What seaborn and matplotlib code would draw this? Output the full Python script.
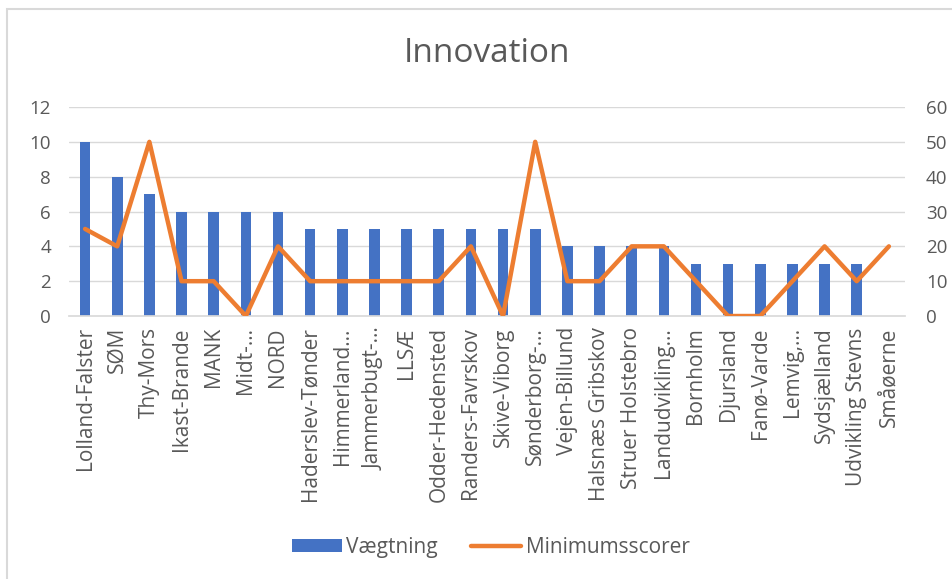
import numpy as np
import pandas as pd
import matplotlib
matplotlib.use("Agg")
import matplotlib.pyplot as plt
from matplotlib.patches import Patch, Rectangle
from matplotlib.lines import Line2D
import seaborn as sns

# ─── DATA ─────────────────────────────
regions = [
    "Lolland-Falster", "SØM", "Thy-Mors", "Ikast-Brande", "MANK", "Midt-…",
    "NORD", "Haderslev-Tønder", "Himmerland…", "Jammerbugt-…", "LLSÆ",
    "Odder-Hedensted", "Randers-Favrskov", "Skive-Viborg", "Sønderborg-…",
    "Vejen-Billund", "Halsnæs Gribskov", "Struer Holstebro", "Landudvikling…",
    "Bornholm", "Djursland", "Fanø-Varde", "Lemvig,…", "Sydsjælland",
    "Udvikling Stevns", "Småøerne",
]
vaegtning = [10, 8, 7, 6, 6, 6, 6, 5, 5, 5, 5, 5, 5, 5, 5, 4, 4, 4, 4, 3, 3, 3, 3, 3, 3, 0]
minimumsscorer = [25, 20, 50, 10, 10, 0, 20, 10, 10, 10, 10, 10, 20, 0, 50, 10, 10, 20, 20, 10, 0, 0, 10, 20, 10, 20]

left_ticks = [0, 2, 4, 6, 8, 10, 12]
right_ticks = [0, 10, 20, 30, 40, 50, 60]

BLUE = "#4472C4"
ORANGE = "#ED7D31"
GREY_TXT = "#595959"
GRID = "#D9D9D9"

df = pd.DataFrame({"region": regions, "vaegt": vaegtning,
                   "minimum": minimumsscorer, "pos": np.arange(len(regions))})

sns.set_theme(style="white")
plt.rcParams["font.family"] = ["Open Sans", "DejaVu Sans"]

fig = plt.figure(figsize=(9.53, 5.79), dpi=100)
ax = fig.add_axes([0.0724, 0.4542, 0.8772, 0.361])

sns.barplot(data=df, x="region", y="vaegt", ax=ax, color=BLUE,
            saturation=1, width=0.33, linewidth=0, zorder=2)
ax2 = ax.twinx()
sns.lineplot(data=df, x="pos", y="minimum", ax=ax2, color=ORANGE,
             linewidth=3.2, sort=False, zorder=3)

ax.set_xlim(-0.5, len(regions) - 0.5)
ax.set_ylim(0, 12)
ax2.set_ylim(0, 60)
ax.set_yticks(left_ticks)
ax2.set_yticks(right_ticks)
ax.set_xlabel("")
ax.set_ylabel("")
ax2.set_ylabel("")

for t in left_ticks[1:]:
    ax.axhline(t, color=GRID, lw=1, zorder=0)

for a in (ax, ax2):
    for s in a.spines.values():
        s.set_visible(False)
    a.tick_params(length=0, colors=GREY_TXT, labelsize=13.5)
ax.spines["bottom"].set_visible(True)
ax.spines["bottom"].set_color(GRID)
ax.tick_params(axis="y", pad=13)
ax2.tick_params(axis="y", pad=15)
ax.tick_params(axis="x", pad=8, labelsize=15)
plt.setp(ax.get_xticklabels(), rotation=90)

fig.text(0.511, 0.908, "Innovation", ha="center", va="center",
         fontsize=24, color=GREY_TXT)

handles = [Patch(facecolor=BLUE, edgecolor="none"),
           Line2D([0], [0], color=ORANGE, lw=3.2)]
fig.legend(handles, ["Vægtning", "Minimumsscorer"], loc="center",
           bbox_to_anchor=(0.515, 0.055), ncol=2, frameon=False,
           fontsize=15, labelcolor=GREY_TXT, handlelength=2.4,
           handleheight=0.6, handletextpad=0.2, columnspacing=1.6)

fig.patches.append(Rectangle((7 / 953, -0.1), 1.2, 1.1 - 9 / 579,
                             transform=fig.transFigure, fill=False,
                             edgecolor=GRID, lw=1.5))

fig.savefig("out.png", dpi=100, facecolor="white")
